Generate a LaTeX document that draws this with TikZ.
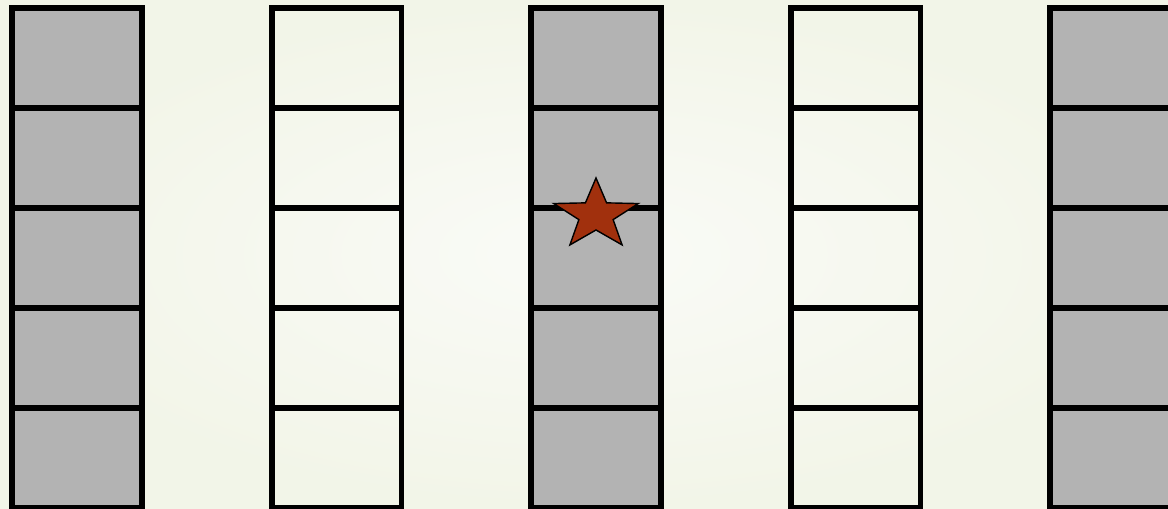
\documentclass[tikz,border=0pt]{standalone}
\definecolor{cellgray}{HTML}{B3B3B3}
\definecolor{starred}{HTML}{A1300D}
\definecolor{paper}{HTML}{FAFBF7}
\definecolor{paperedge}{HTML}{F2F5E8}
\begin{document}
\begin{tikzpicture}[x=0.02cm,y=0.02cm,
    cell/.style={draw,line width=3.4pt,minimum width=2.6cm,minimum height=2cm,inner sep=0pt,outer sep=0pt},
    starfill/.style={draw,line width=0.8pt,fill=starred}]
  \useasboundingbox (0,0) rectangle (1168,509);
  \clip (0,0) rectangle (1168,509);
  \shade[inner color=paper,outer color=paperedge] (0,0) rectangle (1168,509);
  % five columns, grey ones filled
  \foreach \i/\tone in {0/cellgray,1/none,2/cellgray,3/none,4/cellgray}
    \foreach \j in {0,...,4}
      \node[cell,fill=\tone] (c\i\j) at ({77+259.5*\i},{451-100*\j}) {};
  % the star in the middle column
  \coordinate (hit) at (596,294);
  \begin{scope}[shift={(hit)},xscale=1.2]
    \draw[starfill] (90:37) \foreach \a in {0,...,4}{ -- ({126+72*\a}:15) -- ({162+72*\a}:37)} -- cycle;
  \end{scope}
\end{tikzpicture}
\end{document}
